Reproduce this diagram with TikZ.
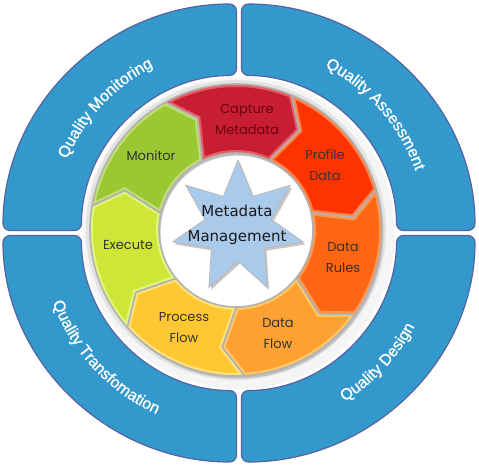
\documentclass[tikz,border=0pt]{standalone}
\usepackage{fontspec}
\setmainfont{Liberation Sans}
\newfontfamily\ringfont[FakeBold=0.9]{Liberation Sans}
\newfontfamily\segfont{Poppins}
\newfontfamily\starfont{DejaVu Sans}
\usetikzlibrary{decorations.text}
\definecolor{ringblue}{RGB}{51,153,204}
\definecolor{ringedge}{RGB}{85,100,160}
\definecolor{capc}{RGB}{200,30,52}
\definecolor{capl}{RGB}{232,90,100}
\definecolor{proc}{RGB}{255,51,0}
\definecolor{prol}{RGB}{255,130,70}
\definecolor{rulc}{RGB}{255,102,20}
\definecolor{rull}{RGB}{255,150,80}
\definecolor{flowc}{RGB}{255,160,50}
\definecolor{flowl}{RGB}{255,200,100}
\definecolor{prfc}{RGB}{255,200,50}
\definecolor{prfl}{RGB}{255,225,120}
\definecolor{exec}{RGB}{205,230,55}
\definecolor{exel}{RGB}{225,245,120}
\definecolor{monc}{RGB}{153,200,51}
\definecolor{monl}{RGB}{190,222,110}
\definecolor{starblue}{RGB}{170,202,235}
\definecolor{captext}{RGB}{110,0,15}
\colorlet{shgray}{gray!45}
\pgfdeclareradialshading{discshade}{\pgfpoint{0bp}{0bp}}{color(0bp)=(white); color(36bp)=(white); color(50bp)=(shgray)}
\newcommand\qfont{\ringfont\fontsize{16}{19}\selectfont}
\tikzset{
  quad/.style={fill=ringblue, draw=ringedge, line width=1.2pt, rounded corners=7pt},
  segpath/.style={insert path={(\oa:146) arc[start angle=\oa, end angle=\ob, radius=146] -- (\tb:118) -- (\ib:77) arc[start angle=\ib, end angle=\ia, radius=77] -- (\ta:118) -- cycle}},
  seglabel/.style={font=\segfont\fontsize{13}{21}\selectfont, align=center, text=black!80},
  ringtext/.style={decorate, decoration={text along path, text align=center, text color=white, text={|\qfont|#1}}}
}
\begin{document}
\begin{tikzpicture}[x=1pt,y=1pt]
\fill[white] (-239,-234) rectangle (240,233);
\useasboundingbox (-239,-234) rectangle (240,233);
% blue quadrants
\path[quad, shift={(-2.5,2.5)}] (90:233.5 and 226.5) arc[start angle=90, end angle=180, x radius=233.5, y radius=226.5] -- (180:155) arc[start angle=180, end angle=90, radius=155] -- cycle;
\path[quad, shift={(2.5,2.5)}] (0:233.5 and 226.5) arc[start angle=0, end angle=90, x radius=233.5, y radius=226.5] -- (90:155) arc[start angle=90, end angle=0, radius=155] -- cycle;
\path[quad, shift={(2.5,-2.5)}] (270:233.5 and 226.5) arc[start angle=270, end angle=360, x radius=233.5, y radius=226.5] -- (360:155) arc[start angle=360, end angle=270, radius=155] -- cycle;
\path[quad, shift={(-2.5,-2.5)}] (180:233.5 and 226.5) arc[start angle=180, end angle=270, x radius=233.5, y radius=226.5] -- (270:155) arc[start angle=270, end angle=180, radius=155] -- cycle;
% ring texts
\path[ringtext=Quality Monitoring] (197:187) arc[start angle=197, end angle=77, radius=187];
\path[ringtext=Quality Assessment] (101:187) arc[start angle=101, end angle=-19, radius=187];
\path[ringtext=Quality Design] (-103:199) arc[start angle=-103, end angle=17, radius=199];
\path[ringtext=Quality Transfomation] (-197:199) arc[start angle=-197, end angle=-77, radius=199];
% background disc
\fill[gray!8] (0,0) circle (156);
\fill[gray!22] (-3,3) circle (150);
\shade[shading=discshade] (-3,3) circle (80);
% segments
\begin{scope}[shift={(-3,3)}]
\foreach \k in {0,...,6} {
  \pgfmathsetmacro\ta{109-51.4286*\k}
  \pgfmathsetmacro\tb{109-51.4286*(\k+1)}
  \pgfmathsetmacro\oa{\ta+10}
  \pgfmathsetmacro\ob{\tb+10}
  \pgfmathsetmacro\ia{\ta+7}
  \pgfmathsetmacro\ib{\tb+7}
  \fill[gray!50, shift={(1.5,-2.5)}, segpath];
}
\foreach \k/\fc/\lc in {0/capc/capl,1/proc/prol,2/rulc/rull,3/flowc/flowl,4/prfc/prfl,5/exec/exel,6/monc/monl} {
  \pgfmathsetmacro\ta{109-51.4286*\k}
  \pgfmathsetmacro\tb{109-51.4286*(\k+1)}
  \pgfmathsetmacro\oa{\ta+10}
  \pgfmathsetmacro\ob{\tb+10}
  \pgfmathsetmacro\ia{\ta+7}
  \pgfmathsetmacro\ib{\tb+7}
  \begin{scope}
    \clip[segpath];
    \fill[\fc, segpath];
    \draw[\lc, line width=6pt, segpath];
  \end{scope}
  \draw[gray!60, line width=1.6pt, line join=round, segpath];
}
\end{scope}
% star
\begin{scope}[shift={(-1,6)}]
\fill[gray!45, shift={(2,-2.5)}] (90:67) -- (115.714:34) -- (141.429:67) -- (167.143:34) -- (192.857:67) -- (218.571:34) -- (244.286:67) -- (270:34) -- (295.714:67) -- (321.429:34) -- (347.143:67) -- (12.857:34) -- (38.571:67) -- (64.286:34) -- cycle;
\filldraw[fill=starblue, draw=gray!55, line width=0.8pt, line join=miter] (90:67) -- (115.714:34) -- (141.429:67) -- (167.143:34) -- (192.857:67) -- (218.571:34) -- (244.286:67) -- (270:34) -- (295.714:67) -- (321.429:34) -- (347.143:67) -- (12.857:34) -- (38.571:67) -- (64.286:34) -- cycle;
\end{scope}
\node[font=\starfont\fontsize{15}{25}\selectfont, align=center, text=black!90] (center) at (-2,8.5) {Metadata\\Management};
% labels
\node[seglabel, text=captext] (capture) at (8,114) {Capture\\Metadata};
\node[seglabel] (profile) at (86,68) {Profile\\Data};
\node[seglabel] (rules) at (104,-25) {Data\\Rules};
\node[seglabel] (dflow) at (39,-101) {Data\\Flow};
\node[seglabel] (pflow) at (-55,-95) {Process\\Flow};
\node[seglabel] (execute) at (-111,-12) {Execute};
\node[seglabel] (monitor) at (-88,77) {Monitor};
\end{tikzpicture}
\end{document}
